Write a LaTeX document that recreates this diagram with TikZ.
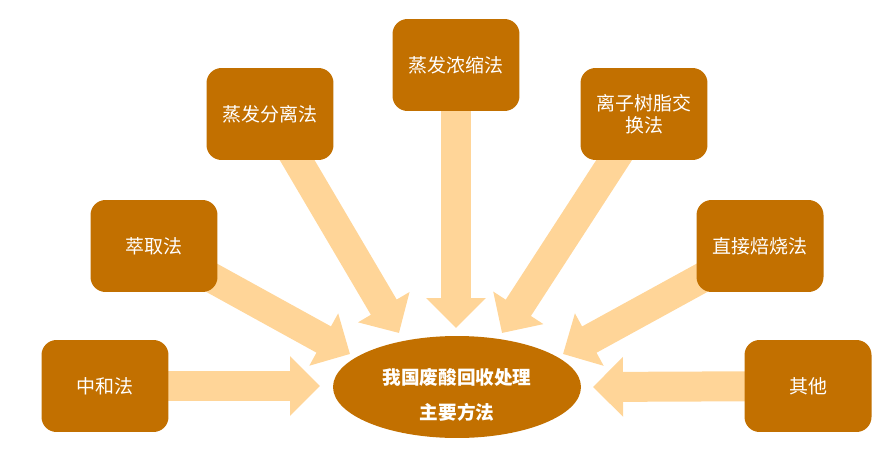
\documentclass[tikz,border=0pt]{standalone}
\usepackage{fontspec}
\setmainfont{Noto Sans CJK SC}
\usetikzlibrary{arrows.meta,shapes.geometric,backgrounds}
\definecolor{boxbrown}{HTML}{C27000}
\definecolor{arrowtan}{HTML}{FFD598}
\begin{document}
\begin{tikzpicture}[x=0.02cm, y=-0.02cm,
      meth/.style={fill=boxbrown, rounded corners=0.3cm, text=white, align=center,
        minimum width=2.54cm, minimum height=1.84cm, inner sep=2pt,
        font=\fontsize{10.8}{12.5}\selectfont},
      hub/.style={ellipse, fill=boxbrown, text=white, align=center,
        minimum width=4.96cm, minimum height=2.04cm, inner sep=0pt,
        font=\bfseries\fontsize{10.6}{12}\selectfont},
      flow/.style={draw=arrowtan, line width=0.6cm,
        -{Triangle[length=0.6cm, width=1.16cm, fill=arrowtan]}}]
    \useasboundingbox (0,0) rectangle (895,456);
    \node[hub] (main) at (457,387) {\rule{0pt}{0.62cm}我国废酸回收处理\\[0.28cm]主要方法};
    \node[meth] (zh) at (105,386) {中和法};
    \node[meth] (cq) at (154,246) {萃取法};
    \node[meth] (fl) at (270,114) {蒸发分离法};
    \node[meth] (ns) at (456,65) {蒸发浓缩法};
    \node[meth] (lz) at (644,114) {离子树脂交\\换法};
    \node[meth] (bs) at (760,246) {直接焙烧法};
    \node[meth] (qt) at (808,386) {其他};
    % arrow tips
    \coordinate (t1) at (320,386);
    \coordinate (t2) at (350,354);
    \coordinate (t3) at (399,333);
    \coordinate (t4) at (456,328);
    \coordinate (t5) at (502,333);
    \coordinate (t6) at (563,354);
    \coordinate (t7) at (593,387);
    \begin{scope}[on background layer]
      \draw[flow] (zh.center) -- (t1);
      \draw[flow] (cq.center) -- (t2);
      \draw[flow] (fl.center) -- (t3);
      \draw[flow] (ns.center) -- (t4);
      \draw[flow] (lz.center) -- (t5);
      \draw[flow] (bs.center) -- (t6);
      \draw[flow] (qt.center) -- (t7);
    \end{scope}
  \end{tikzpicture}
\end{document}
